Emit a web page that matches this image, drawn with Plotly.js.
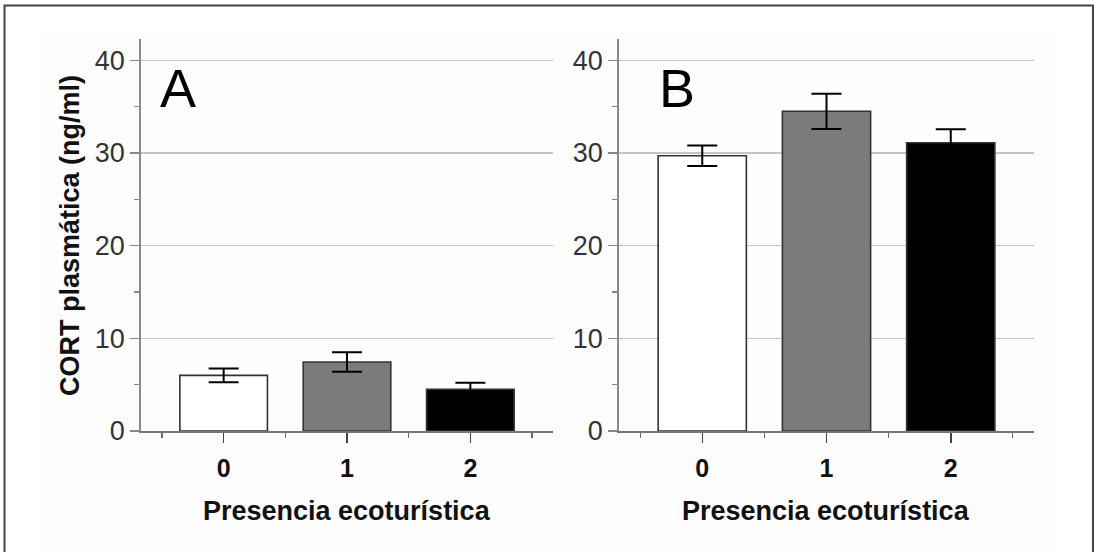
<!DOCTYPE html>
<html>
<head>
<meta charset="utf-8">
<script src="https://cdn.plot.ly/plotly-3.0.1.min.js"></script>
<style>
html,body{margin:0;padding:0;background:#fff;}
#chart{width:1097px;height:552px;}
</style>
</head>
<body>
<div id="chart"></div>
<script>
// Data
const categories = [0, 1, 2];
const tickLabels = ["0", "1", "2"];
const barColors = ["#ffffff", "#7b7b7b", "#000000"];
const panelA_values = [6.0, 7.45, 4.5];
const panelA_errors = [0.75, 1.05, 0.7];
const panelB_values = [29.7, 34.5, 31.1];
const panelB_errors = [1.1, 1.9, 1.45];
const panelLabels = ["A", "B"];
const yTitle = "CORT plasmática (ng/ml)";
const xTitle = "Presencia ecoturística";
const yTicks = [0, 10, 20, 30, 40];

const W = 1097, H = 552;
const px = v => v / W;
const py = v => 1 - v / H;

function barTrace(vals, errs, xa, ya) {
  return {
    type: "bar",
    x: categories,
    y: vals,
    xaxis: xa, yaxis: ya,
    width: 0.71,
    marker: { color: barColors, line: { color: "#333", width: 1.6 } },
    error_y: { type: "data", array: errs, visible: true, color: "#000", thickness: 2, width: 15 },
    showlegend: false,
    hoverinfo: "skip"
  };
}

const data = [
  barTrace(panelA_values, panelA_errors, "x", "y"),
  barTrace(panelB_values, panelB_errors, "x2", "y2")
];

function xAxis(domain, anchor) {
  return {
    domain: domain, anchor: anchor,
    range: [-0.67, 2.67],
    tickmode: "array", tickvals: categories, ticktext: tickLabels,
    ticks: "outside", ticklen: 10, tickwidth: 1.5, tickcolor: "#444",
    minor: { tickmode: "array", tickvals: [-0.5, 0.5, 1.5, 2.5], ticks: "outside", ticklen: 5, tickwidth: 1.2, tickcolor: "#666", showgrid: false },
    showline: true, linecolor: "#777", linewidth: 2,
    showgrid: false, zeroline: false,
    ticklabelstandoff: 4,
    tickfont: { family: "Liberation Sans, Arial, sans-serif", size: 25, color: "#111", weight: "bold" },
    fixedrange: true
  };
}
function yAxis(domain, anchor) {
  return {
    domain: domain, anchor: anchor,
    range: [0, 42.3],
    tickmode: "array", tickvals: yTicks,
    ticks: "outside", ticklen: 9, tickwidth: 1.5, tickcolor: "#888",
    minor: { tickmode: "array", tickvals: [5, 15, 25, 35], ticks: "outside", ticklen: 5, tickwidth: 1.2, tickcolor: "#888", showgrid: false },
    showline: true, linecolor: "#8a8a8a", linewidth: 1.8,
    showgrid: true, gridcolor: "#c6c6c6", gridwidth: 1.5,
    zeroline: false,
    tickfont: { family: "Liberation Sans, Arial, sans-serif", size: 27, color: "#333" },
    fixedrange: true
  };
}

const yDom = [py(431), py(39)];
const layout = {
  width: W, height: H,
  margin: { l: 0, r: 0, t: 0, b: 0, pad: 0 },
  paper_bgcolor: "#ffffff",
  plot_bgcolor: "rgba(0,0,0,0)",
  xaxis: xAxis([px(141), px(553)], "y"),
  yaxis: yAxis(yDom, "x"),
  xaxis2: xAxis([px(619), px(1034)], "y2"),
  yaxis2: yAxis(yDom, "x2"),
  bargap: 0.29,
  shapes: [
    { type: "rect", xref: "paper", yref: "paper", layer: "below",
      x0: px(43), x1: px(1058), y0: -0.1, y1: py(32),
      fillcolor: "#fdfdfd", line: { width: 0 } },
    { type: "rect", xref: "paper", yref: "paper", layer: "above",
      x0: px(4.5), x1: px(1093), y0: -0.1, y1: py(5.5),
      fillcolor: "rgba(0,0,0,0)", line: { color: "#444", width: 2 } }
  ],
  annotations: [
    { text: panelLabels[0], xref: "paper", yref: "paper", x: px(178), y: py(88),
      xanchor: "center", yanchor: "middle", showarrow: false,
      font: { family: "Liberation Sans, Arial, sans-serif", size: 54, color: "#000" } },
    { text: panelLabels[1], xref: "paper", yref: "paper", x: px(677), y: py(88),
      xanchor: "center", yanchor: "middle", showarrow: false,
      font: { family: "Liberation Sans, Arial, sans-serif", size: 54, color: "#000" } },
    { text: xTitle, xref: "paper", yref: "paper", x: px(347), y: py(511),
      xanchor: "center", yanchor: "middle", showarrow: false,
      font: { family: "Liberation Sans, Arial, sans-serif", size: 27, color: "#111", weight: "bold" } },
    { text: xTitle, xref: "paper", yref: "paper", x: px(826), y: py(511),
      xanchor: "center", yanchor: "middle", showarrow: false,
      font: { family: "Liberation Sans, Arial, sans-serif", size: 27, color: "#111", weight: "bold" } },
    { text: yTitle, xref: "paper", yref: "paper", x: px(70), y: py(236),
      xanchor: "center", yanchor: "middle", showarrow: false, textangle: -90,
      font: { family: "Liberation Sans, Arial, sans-serif", size: 27, color: "#111", weight: "bold" } }
  ]
};

Plotly.newPlot("chart", data, layout, { displayModeBar: false, staticPlot: true });
</script>
</body>
</html>
